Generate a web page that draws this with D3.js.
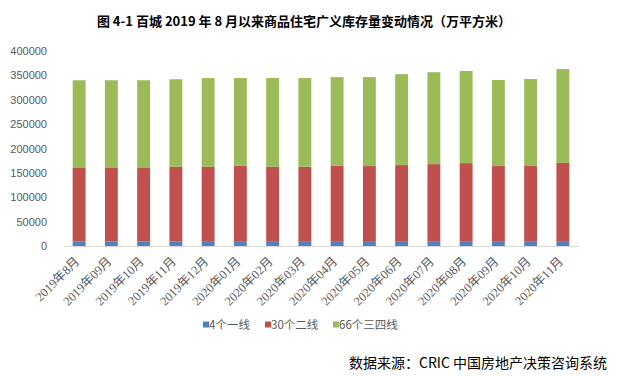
<!DOCTYPE html>
<html>
<head>
<meta charset="utf-8">
<script src="https://cdn.jsdelivr.net/npm/d3@7"></script>
<style>
  body { margin: 0; background: #fff; }
  svg { display: block; font-family: "Noto Sans CJK SC", "DejaVu Sans", sans-serif; }
</style>
</head>
<body>
<svg id="chart"></svg>
<script>
// 月份
const months = ["2019年8月", "2019年09月", "2019年10月", "2019年11月", "2019年12月",
  "2020年01月", "2020年02月", "2020年03月", "2020年04月", "2020年05月", "2020年06月",
  "2020年07月", "2020年08月", "2020年09月", "2020年10月", "2020年11月"];

// 各梯队库存（万平方米）
const tier1 = [9000, 9000, 9000, 9000, 10000, 10000, 10000, 10000, 10000, 10000, 10000, 10000, 10000, 10000, 10000, 8500];
const tier2 = [151000, 151000, 151000, 153500, 152500, 154500, 152500, 152500, 154500, 154000, 156000, 158000, 160000, 154000, 154000, 162000];
const tier34 = [180000, 180000, 180000, 179500, 182000, 180000, 182000, 182000, 182000, 182500, 186500, 188500, 189000, 176500, 178500, 192500];

const seriesNames = ["4个一线", "30个二线", "66个三四线"];
const colors = ["#4F81BD", "#C0504D", "#9BBB59"];
const yTicks = [0, 50000, 100000, 150000, 200000, 250000, 300000, 350000, 400000];

const W = 618, H = 376;
const margin = { top: 51, right: 39, bottom: 130, left: 63 };
const width = W - margin.left - margin.right;
const height = H - margin.top - margin.bottom;

const table = months.map((m, i) => ({ month: m, s0: tier1[i], s1: tier2[i], s2: tier34[i] }));
const stack = d3.stack().keys(["s0", "s1", "s2"])(table);

const root = d3.select("#chart").attr("width", W).attr("height", H);

// 标题
root.append("text")
  .attr("x", 304)
  .attr("y", 26)
  .attr("text-anchor", "middle")
  .style("font-size", "13px")
  .style("font-weight", "bold")
  .style("fill", "#000")
  .text("图 4-1 百城 2019 年 8 月以来商品住宅广义库存量变动情况（万平方米）");

const svg = root.append("g").attr("transform", `translate(${margin.left},${margin.top})`);

const x = d3.scaleBand().domain(months).range([0, width]).paddingInner(0.6).paddingOuter(0.3);
const y = d3.scaleLinear().domain([0, 400000]).range([height, 0]);

// Y 轴
const yAxis = svg.append("g")
  .call(d3.axisLeft(y).tickValues(yTicks).tickSize(0).tickPadding(16).tickFormat(d3.format("d")));
yAxis.select(".domain").remove();
yAxis.selectAll("text").style("font-size", "11px").style("fill", "#595959")
  .style("font-family", "'Liberation Sans', 'DejaVu Sans', sans-serif");

// 柱子
svg.selectAll(".layer")
  .data(stack)
  .enter().append("g")
  .attr("fill", (d, i) => colors[i])
  .selectAll("rect")
  .data(d => d)
  .enter().append("rect")
  .attr("x", d => x(d.data.month))
  .attr("y", d => y(d[1]))
  .attr("height", d => y(d[0]) - y(d[1]))
  .attr("width", x.bandwidth());

// X 轴
const xAxis = svg.append("g")
  .attr("transform", `translate(0,${height})`)
  .call(d3.axisBottom(x).tickSize(0));
xAxis.select(".domain").attr("stroke", "#D9D9D9").attr("stroke-width", 1);
xAxis.selectAll("text")
  .style("font-size", "12.5px")
  .style("font-family", "'Liberation Serif', 'Noto Sans CJK SC', serif")
  .style("fill", "#595959")
  .attr("text-anchor", "end")
  .attr("x", 0)
  .attr("y", 0)
  .attr("dy", "0.35em")
  .attr("transform", "translate(-2,13) rotate(-45)");

// 图例
const legendX = [203, 265, 333];
const legend = root.append("g").attr("transform", "translate(0,325)");
seriesNames.forEach((name, i) => {
  legend.append("rect").attr("x", legendX[i]).attr("y", -3.5).attr("width", 6).attr("height", 6).attr("fill", colors[i]);
  legend.append("text").attr("x", legendX[i] + 6).attr("y", 0).attr("dy", "0.35em")
    .style("font-size", "11.5px").style("fill", "#595959").text(name);
});

// 数据来源
root.append("text")
  .attr("x", 607)
  .attr("y", 368)
  .attr("text-anchor", "end")
  .style("font-size", "14px")
  .style("fill", "#000")
  .text("数据来源：CRIC 中国房地产决策咨询系统");
</script>
</body>
</html>
